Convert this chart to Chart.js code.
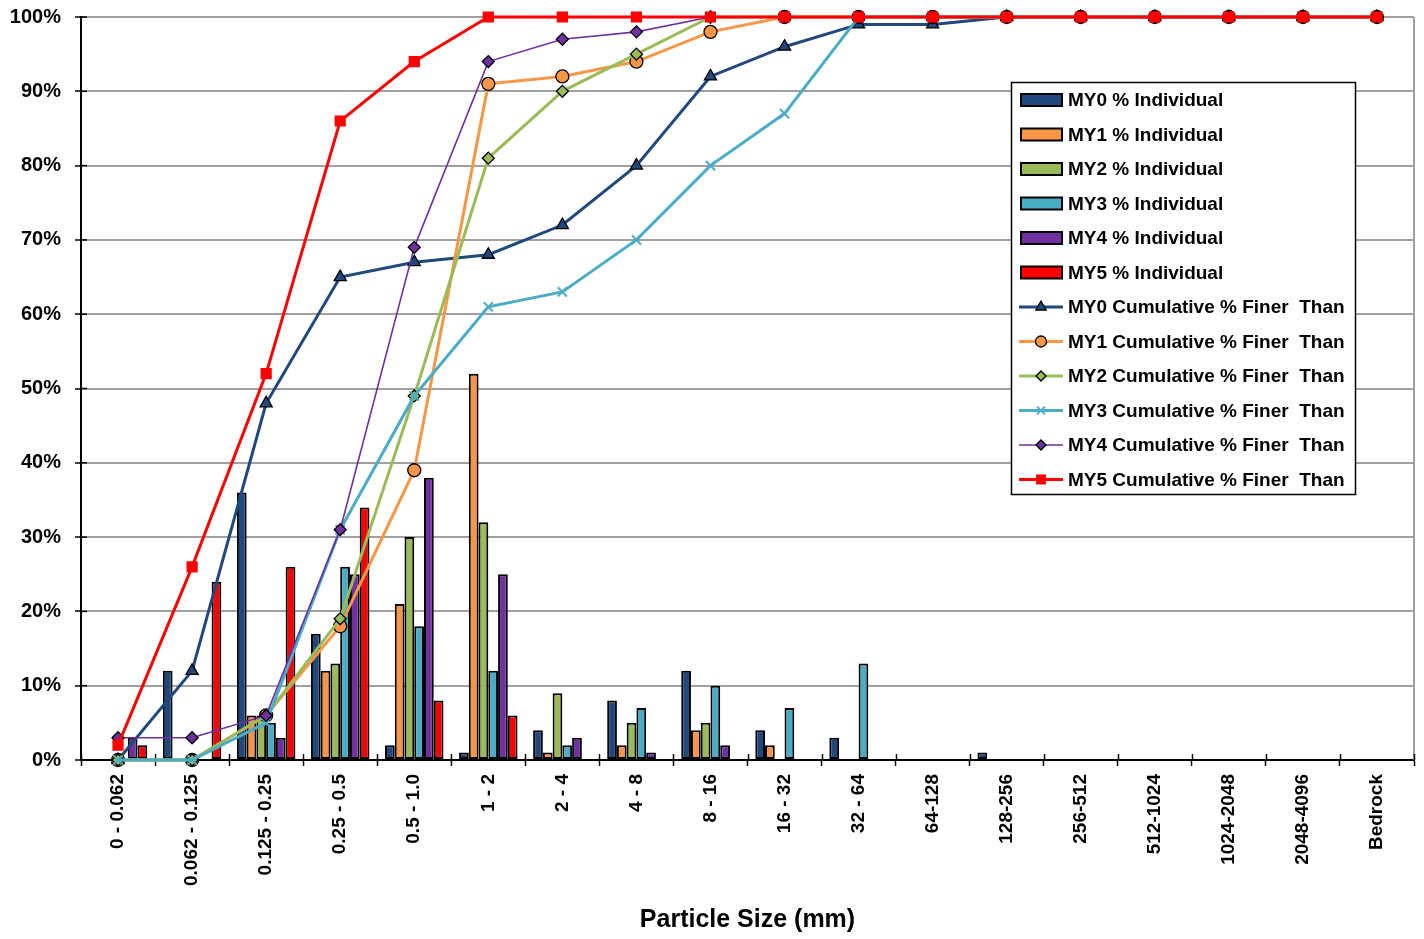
<!DOCTYPE html>
<html>
<head>
<meta charset="utf-8">
<script src="https://cdn.jsdelivr.net/npm/chart.js@4.4.0/dist/chart.umd.min.js"></script>
<style>
html,body{margin:0;padding:0;background:#fff;}
#wrap{width:1424px;height:939px;}
</style>
</head>
<body>
<div id="wrap"><canvas id="c" width="1424" height="939"></canvas></div>
<script>
const categories = ['0 - 0.062','0.062 - 0.125','0.125 - 0.25','0.25 - 0.5','0.5 - 1.0','1 - 2','2 - 4','4 - 8','8 - 16','16 - 32','32 - 64','64-128','128-256','256-512','512-1024','1024-2048','2048-4096','Bedrock'];

const yTicks = [0,10,20,30,40,50,60,70,80,90,100];

const my0Individual = [0,12,36,17,2,1,4,8,12,4,3,0,1,0,0,0,0,0];
const my1Individual = [0,0,6,12,21,52,1,2,4,2,0,0,0,0,0,0,0,0];
const my2Individual = [0,0,6,13,30,32,9,5,5,0,0,0,0,0,0,0,0,0];
const my3Individual = [0,0,5,26,18,12,2,7,10,7,13,0,0,0,0,0,0,0];
const my4Individual = [3,0,3,25,38,25,3,1,2,0,0,0,0,0,0,0,0,0];
const my5Individual = [2,24,26,34,8,6,0,0,0,0,0,0,0,0,0,0,0,0];

const my0Cumulative = [0,12,48,65,67,68,72,80,92,96,99,99,100,100,100,100,100,100];
const my1Cumulative = [0,0,6,18,39,91,92,94,98,100,100,100,100,100,100,100,100,100];
const my2Cumulative = [0,0,6,19,49,81,90,95,100,100,100,100,100,100,100,100,100,100];
const my3Cumulative = [0,0,5,31,49,61,63,70,80,87,100,100,100,100,100,100,100,100];
const my4Cumulative = [3,3,6,31,69,94,97,98,100,100,100,100,100,100,100,100,100,100];
const my5Cumulative = [2,26,52,86,94,100,100,100,100,100,100,100,100,100,100,100,100,100];

const FONT = "'Liberation Sans', Arial, Helvetica, sans-serif";
const C = {
  my0:'#1F497D', my1:'#F79646', my2:'#9BBB59', my3:'#4BACC6', my4:'#7030A0', my5:'#FF0000'
};

function barDs(label, data, color){
  return {type:'bar', label, data, backgroundColor:color, borderColor:'#000', borderWidth:2,
    borderSkipped:false, order:20, categoryPercentage:0.79, barPercentage:1.0};
}
function lineDs(label, data, color, width, style, radius, fill, border, order){
  return {type:'line', label, data, borderColor:color, borderWidth:width, backgroundColor:color,
    pointStyle:style, pointRadius:radius, pointHoverRadius:radius, pointBackgroundColor:fill,
    pointBorderColor:border, pointBorderWidth: style==='crossRot'?2:1.3, tension:0, fill:false, order, clip:false};
}

const datasets = [
  barDs('MY0 % Individual', my0Individual, C.my0),
  barDs('MY1 % Individual', my1Individual, C.my1),
  barDs('MY2 % Individual', my2Individual, C.my2),
  barDs('MY3 % Individual', my3Individual, C.my3),
  barDs('MY4 % Individual', my4Individual, C.my4),
  barDs('MY5 % Individual', my5Individual, C.my5),
  lineDs('MY0 Cumulative % Finer  Than', my0Cumulative, C.my0, 3, 'triangle', 7, C.my0, '#000', 5),
  lineDs('MY1 Cumulative % Finer  Than', my1Cumulative, C.my1, 3, 'circle', 6.5, C.my1, '#000', 4),
  lineDs('MY2 Cumulative % Finer  Than', my2Cumulative, C.my2, 3, 'rectRot', 6, C.my2, '#000', 3),
  lineDs('MY3 Cumulative % Finer  Than', my3Cumulative, C.my3, 3, 'crossRot', 6.5, C.my3, C.my3, 2),
  lineDs('MY4 Cumulative % Finer  Than', my4Cumulative, C.my4, 1.6, 'rectRot', 6, C.my4, '#000', 1),
  lineDs('MY5 Cumulative % Finer  Than', my5Cumulative, C.my5, 3, 'rect', 7, C.my5, C.my5, 0)
];

const frame = {
  id:'frame',
  beforeDatasetsDraw(chart){
    const {ctx, chartArea:a, scales} = chart;
    ctx.save();
    ctx.strokeStyle='#a0a0a0'; ctx.lineWidth=2;
    ctx.beginPath(); ctx.moveTo(a.right, a.top); ctx.lineTo(a.right, a.bottom); ctx.stroke();
    ctx.strokeStyle='#000'; ctx.lineWidth=1.5;
    const n = categories.length, cw = (a.right-a.left)/n;
    for(let i=0;i<=n;i++){
      const x = Math.round(a.left + i*cw)+0.5;
      ctx.beginPath(); ctx.moveTo(x, a.bottom); ctx.lineTo(x, a.bottom-6); ctx.stroke();
    }
    yTicks.forEach(v=>{
      const y = scales.y.getPixelForValue(v);
      ctx.beginPath(); ctx.moveTo(a.left, y); ctx.lineTo(a.left+6, y); ctx.stroke();
    });
    ctx.restore();
  }
};

const legendPlugin = {
  id:'customLegend',
  afterDraw(chart){
    const ctx = chart.ctx;
    const x0=1011, y0=82, w=344, h=412;
    ctx.save();
    ctx.fillStyle='#fff'; ctx.fillRect(x0,y0,w,h);
    ctx.strokeStyle='#000'; ctx.lineWidth=1.5; ctx.strokeRect(x0+0.5,y0+0.5,w,h);
    const dss = chart.data.datasets;
    dss.forEach((ds,i)=>{
      const y = 100 + i*34.5;
      if(ds.type==='bar'){
        ctx.fillStyle = ds.backgroundColor;
        ctx.fillRect(1021, y-6, 41, 12);
        ctx.strokeStyle='#000'; ctx.lineWidth=2;
        ctx.strokeRect(1021, y-6, 41, 12);
      } else {
        ctx.strokeStyle = ds.borderColor; ctx.lineWidth = ds.borderWidth;
        ctx.beginPath(); ctx.moveTo(1019, y); ctx.lineTo(1063, y); ctx.stroke();
        ctx.fillStyle = ds.pointBackgroundColor; ctx.strokeStyle = ds.pointBorderColor;
        ctx.lineWidth = ds.pointBorderWidth;
        if (Chart.helpers && Chart.helpers.drawPoint){
          Chart.helpers.drawPoint(ctx, {pointStyle: ds.pointStyle, radius: ds.pointRadius-1, rotation:0, borderWidth: ds.pointBorderWidth}, 1041, y);
        }
      }
      ctx.fillStyle='#000';
      ctx.font = "bold 19px " + FONT;
      ctx.textBaseline='middle'; ctx.textAlign='left';
      ctx.fillText(ds.label, 1068, y+1);
    });
    ctx.restore();
  }
};

new Chart(document.getElementById('c'), {
  data:{labels:categories, datasets},
  options:{
    responsive:false,
    animation:false,
    devicePixelRatio:1,
    layout:{padding:{left:0, right:10, top:17, bottom:0}},
    plugins:{legend:{display:false}, tooltip:{enabled:false}},
    scales:{
      x:{
        offset:true,
        grid:{display:true, drawOnChartArea:false, offset:true, tickLength:6, tickColor:'#000', tickWidth:1.5},
        border:{display:true, color:'#000', width:2},
        ticks:{autoSkip:false, minRotation:90, maxRotation:90, padding:8, color:'#000', font:{family:FONT, size:19, weight:'bold'}},
        title:{display:true, text:'Particle Size (mm)', color:'#000', font:{family:FONT, size:25, weight:'bold'}, padding:{top:4, bottom:4}},
        afterFit(s){ s.height = 179; s.paddingLeft = 0; s.paddingRight = 0; }
      },
      y:{
        min:0, max:100,
        afterBuildTicks(s){ s.ticks = yTicks.map(v=>({value:v})); },
        grid:{color:'#a0a0a0', lineWidth:2, tickLength:6, tickColor:'#000', tickWidth:1.5},
        border:{display:true, color:'#000', width:2},
        ticks:{padding:14, color:'#000', font:{family:FONT, size:20, weight:'bold'}, callback:v=>v+'%'},
        afterFit(s){ s.width = 81; s.paddingTop = 0; s.paddingBottom = 0; }
      }
    }
  },
  plugins:[frame, legendPlugin]
});
</script>
</body>
</html>
